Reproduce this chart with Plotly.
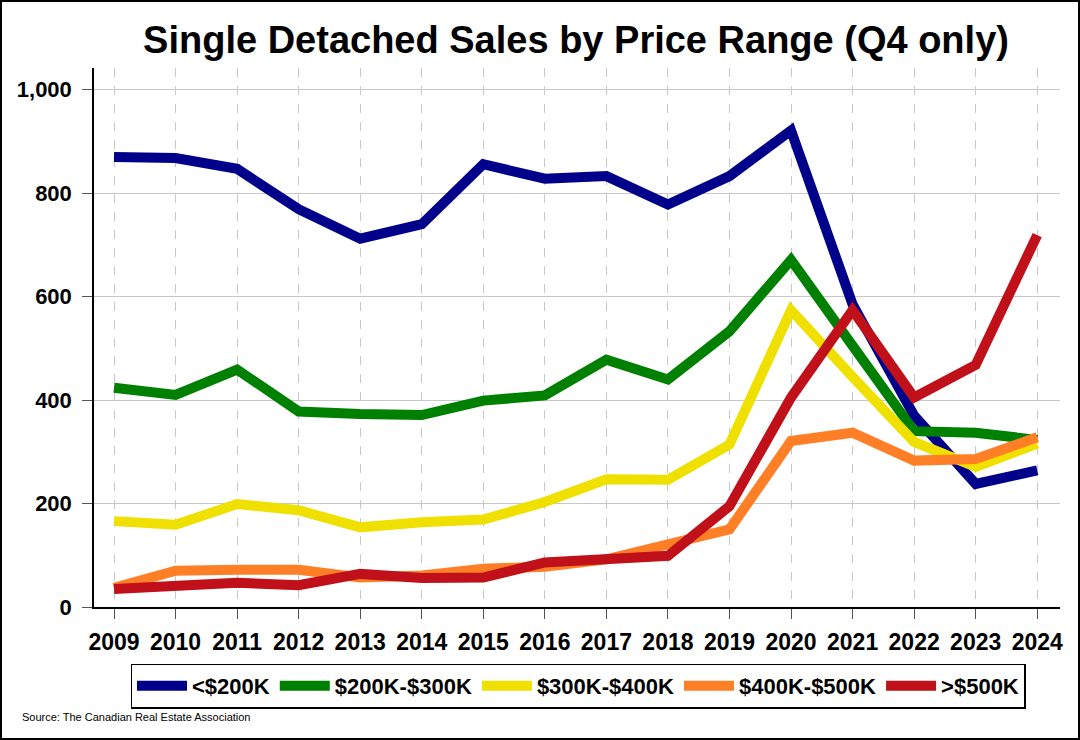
import plotly.graph_objects as go

years = list(range(2009, 2025))
series_names = ["<$200K", "$200K-$300K", "$300K-$400K", "$400K-$500K", ">$500K"]
under_200k = [870, 868, 847, 769, 712, 740, 856, 828, 833, 778, 833, 921, 585, 370, 238, 264]
k200_300 = [424, 410, 459, 378, 373, 371, 399, 409, 478, 440, 533, 671, 505, 340, 337, 323]
k300_400 = [166, 159, 199, 187, 154, 164, 169, 203, 247, 246, 314, 574, 445, 319, 271, 316]
k400_500 = [37, 70, 72, 72, 57, 61, 74, 78, 92, 119, 150, 321, 337, 283, 286, 328]
over_500k = [35, 43, 47, 42, 64, 56, 57, 86, 92, 99, 195, 405, 574, 405, 468, 719]
colors = ["#00008B", "#008000", "#F0E000", "#FF7F27", "#C0101A"]
tick_vals = [0, 200, 400, 600, 800, 1000]
tick_text = ["0", "200", "400", "600", "800", "1,000"]

fig = go.Figure()
for name, vals, c in zip(series_names, [under_200k, k200_300, k300_400, k400_500, over_500k], colors):
    fig.add_trace(go.Scatter(x=years, y=vals, mode="lines", name=name,
                             line=dict(color=c, width=10)))

font_family = "Liberation Sans, Arial, sans-serif"
fig.update_layout(
    width=1080, height=740,
    paper_bgcolor="white", plot_bgcolor="white",
    margin=dict(l=94, r=20, t=68, b=133),
    title=dict(text="<b>Single Detached Sales by Price Range (Q4 only)</b>",
               x=576/1080, xanchor="center", y=1 - 40/740, yanchor="middle",
               font=dict(family=font_family, size=38, color="black")),
    font=dict(family=font_family, color="black"),
    legend=dict(orientation="h", x=(578 - 94)/966, xanchor="center", y=-(686 - 607)/539, yanchor="middle",
                bordercolor="black", borderwidth=1.5, bgcolor="white",
                font=dict(family=font_family, size=22, color="black", weight="bold"),
                itemwidth=50, tracegroupgap=0),
    showlegend=True,
)
fig.update_xaxes(range=[2008.675, 2024.37], tickvals=years, ticktext=[str(y) for y in years],
                 showgrid=True, gridcolor="#C8C8C8", griddash="dash", gridwidth=1,
                 showline=True, linecolor="black", linewidth=1.5,
                 ticks="outside", ticklen=10, tickcolor="#555", zeroline=False,
                 ticklabelstandoff=4,
                 tickfont=dict(family=font_family, size=23, color="black", weight="bold"))
fig.update_yaxes(range=[0, 1042], tickvals=tick_vals, ticktext=tick_text,
                 showgrid=True, gridcolor="#C8C8C8", gridwidth=1,
                 showline=True, linecolor="black", linewidth=1.5,
                 ticks="outside", ticklen=10, tickcolor="#555", zeroline=False,
                 ticklabelstandoff=6,
                 tickfont=dict(family=font_family, size=22, color="black", weight="bold"))
fig.add_shape(type="rect", xref="paper", yref="paper", x0=-93/966, y0=-132/539, x1=1+19/966, y1=1+67/539,
              line=dict(color="black", width=2), layer="above")
fig.add_annotation(text="Source: The Canadian Real Estate Association", xref="paper", yref="paper",
                   x=-74/966, y=-(717-607)/539, xanchor="left", yanchor="middle", showarrow=False,
                   font=dict(family=font_family, size=11, color="black"))
fig.write_html("out.html", config={"displayModeBar": False},
               post_script="document.body.style.margin='0';document.body.style.overflow='hidden';")
